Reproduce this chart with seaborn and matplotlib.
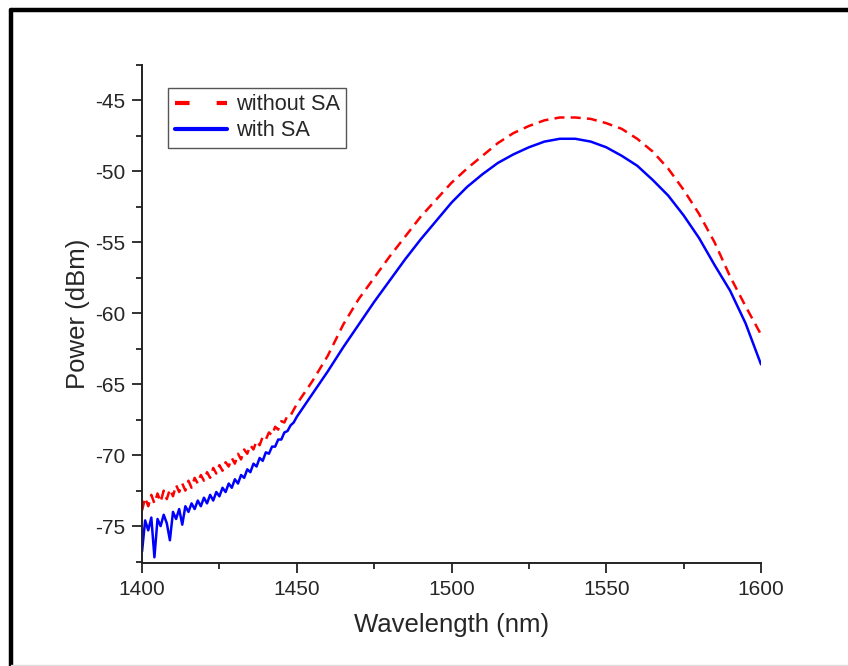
import matplotlib
matplotlib.use('Agg')
import matplotlib.pyplot as plt
from matplotlib.lines import Line2D
from matplotlib.ticker import MultipleLocator
import seaborn as sns
import pandas as pd

# wavelength samples (nm): dense in the noisy short-wavelength part, coarser afterwards
wavelength = list(range(1400, 1450)) + list(range(1450, 1601, 5))

without_sa = [
    -73.9, -73.0, -73.6, -72.8, -73.4, -72.7, -73.3, -72.5, -73.1, -72.4,
    -72.9, -72.1, -72.6, -72.0, -72.5, -71.8, -72.3, -71.6, -72.0, -71.4,
    -71.8, -71.2, -71.6, -70.9, -71.3, -70.7, -71.1, -70.5, -70.8, -70.2,
    -70.6, -69.9, -70.3, -69.6, -69.9, -69.3, -69.6, -69.0, -69.3, -68.7,
    -68.9, -68.4, -68.6, -68.0, -68.2, -67.6, -67.7, -67.2, -67.2, -66.8,
    -66.4, -64.8, -63.0, -60.8, -59.0, -57.5, -56.0, -54.6, -53.2, -52.0,
    -50.8, -49.8, -48.9, -48.0, -47.3, -46.8, -46.4, -46.2, -46.2, -46.3,
    -46.6, -47.0, -47.7, -48.6, -49.8, -51.3, -53.0, -55.0, -57.4, -59.5,
    -61.5,
]

with_sa = [
    -76.8, -74.6, -75.3, -74.4, -77.2, -74.5, -75.0, -74.2, -74.8, -76.0,
    -74.0, -74.5, -73.8, -74.9, -73.6, -74.0, -73.4, -73.8, -73.2, -73.6,
    -73.0, -73.4, -72.8, -73.2, -72.6, -72.9, -72.3, -72.6, -72.0, -72.3,
    -71.7, -72.0, -71.4, -71.6, -71.0, -71.2, -70.6, -70.8, -70.2, -70.4,
    -69.8, -69.9, -69.4, -69.4, -68.9, -68.9, -68.4, -68.3, -67.9, -67.7,
    -67.3, -65.7, -64.1, -62.4, -60.8, -59.2, -57.7, -56.2, -54.8, -53.5,
    -52.2, -51.1, -50.2, -49.4, -48.8, -48.3, -47.9, -47.7, -47.7, -47.9,
    -48.3, -48.9, -49.6, -50.6, -51.7, -53.1, -54.7, -56.6, -58.4, -60.7,
    -63.6,
]

df = pd.DataFrame({'wavelength': wavelength,
                   'without SA': without_sa,
                   'with SA': with_sa})

sns.set_style('ticks')
plt.rcParams['font.family'] = ['Liberation Sans', 'DejaVu Sans']
plt.rcParams['axes.unicode_minus'] = False

fig = plt.figure(figsize=(8.48, 6.66), dpi=100)
ax = fig.add_axes([0.1675, 0.1547, 0.7299, 0.7477])

sns.lineplot(data=df, x='wavelength', y='without SA', ax=ax, color='red',
             linewidth=1.8, sort=False)
ax.lines[-1].set_dashes((4, 2.5))
sns.lineplot(data=df, x='wavelength', y='with SA', ax=ax, color='blue',
             linewidth=1.8, sort=False)

ax.set_xlim(1400, 1600)
ax.set_ylim(-77.6, -42.5)
ax.xaxis.set_major_locator(MultipleLocator(50))
ax.xaxis.set_minor_locator(MultipleLocator(25))
ax.yaxis.set_major_locator(MultipleLocator(5))
ax.yaxis.set_minor_locator(MultipleLocator(2.5))
ax.tick_params(which='major', length=7, width=1.3, labelsize=15, pad=5, color='#222222')
ax.tick_params(which='minor', length=4, width=1.3, color='#222222')
for s in ['top', 'right']:
    ax.spines[s].set_visible(False)
for s in ['left', 'bottom']:
    ax.spines[s].set_linewidth(1.4)
    ax.spines[s].set_color('#222222')

ax.set_xlabel('Wavelength (nm)', fontsize=18.5, labelpad=10)
ax.set_ylabel('Power (dBm)', fontsize=18.5, labelpad=4)

handles = [Line2D([], [], color='red', linewidth=3, dashes=(3.5, 6.5)),
           Line2D([], [], color='blue', linewidth=3)]
leg = ax.legend(handles, ['without SA', 'with SA'], loc='upper left',
                bbox_to_anchor=(0.042, 0.954), borderaxespad=0, fontsize=15.7,
                frameon=True, fancybox=False, handlelength=2.4,
                handletextpad=0.4, borderpad=0.3, labelspacing=0.22)
leg.get_frame().set_edgecolor('#555555')
leg.get_frame().set_linewidth(1.0)
leg.get_frame().set_alpha(1)

# outer frame (top and left edges visible in the reference)
fig.add_artist(Line2D([10.5 / 848, 1.0], [1 - 10 / 666, 1 - 10 / 666],
                      transform=fig.transFigure, color='black', linewidth=3.2))
fig.add_artist(Line2D([10.5 / 848, 10.5 / 848], [1 - 10 / 666, 0.0],
                      transform=fig.transFigure, color='black', linewidth=3.2))
fig.add_artist(Line2D([10.5 / 848, 1.0], [1 / 666, 1 / 666],
                      transform=fig.transFigure, color='#dddddd', linewidth=1))

fig.savefig('out.png', dpi=100)
